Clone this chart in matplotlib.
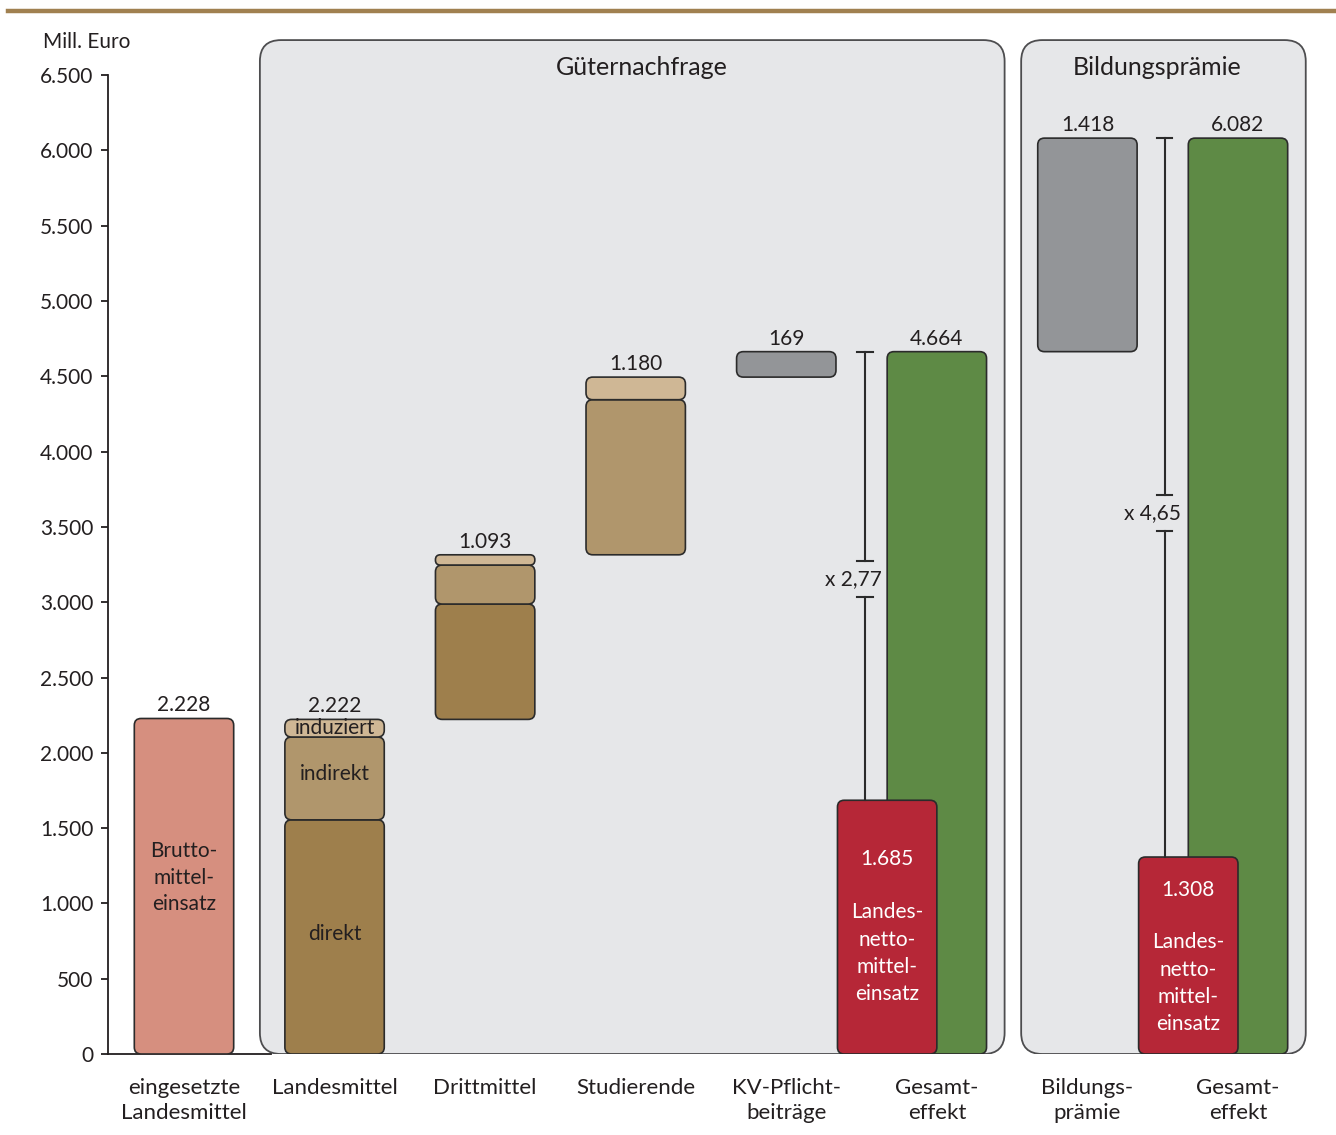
import matplotlib
matplotlib.use("Agg")
import matplotlib.pyplot as plt
from matplotlib.patches import FancyBboxPatch
from matplotlib.lines import Line2D
import numpy as np

plt.rcParams['font.family'] = ['Lato', 'DejaVu Sans']

# Daten (Mill. Euro)
categories = ["eingesetzte\nLandesmittel", "Landesmittel", "Drittmittel", "Studierende",
              "KV-Pflicht-\nbeiträge", "Gesamt-\neffekt", "Bildungs-\nprämie", "Gesamt-\neffekt"]
brutto = 2228
landes_segs = [1555, 550, 117]      # direkt, indirekt, induziert
landes_total = 2222
dritt_segs = [766, 259, 68]
dritt_total = 1093
stud_segs = [1030, 150]
stud_total = 1180
kv = 169
gesamt_gn = 4664
netto_gn = 1685
praemie = 1418
gesamt_bp = 6082
netto_bp = 1308
faktor_labels = ["x 2,77", "x 4,65"]
faktor_text_y = [3154, 3592]
faktor_gap = [(3035, 3274), (3473, 3712)]

TXT = "#231f20"
EDGE = "#2b2b2b"
c_brutto = "#d68f7f"
c_seg = ["#9e7f4c", "#b0966c", "#cfb795"]
c_grey = "#939598"
c_green = "#5e8a45"
c_red = "#b62737"
c_panel = "#e6e7e9"

W = 0.66
fig = plt.figure(figsize=(13.36, 11.35), dpi=100)
L, B, Wpx, Hpx = 108, 1135 - 1054, 1222, 1024
ax = fig.add_axes([L / 1336, B / 1135, Wpx / 1336, Hpx / 1135])
pxu = 150.57
ax.set_xlim(-76 / pxu, (1330 - 184) / pxu)
ax.set_ylim(0, 6800)
asp = (6800 / Hpx) / ((ax.get_xlim()[1] - ax.get_xlim()[0]) / Wpx)


def rounded(bars, r=0.045, z=3):
    for b in bars:
        x, y, w, h = b.get_x(), b.get_y(), b.get_width(), b.get_height()
        rs = min(r, h / asp / 2.1)
        p = FancyBboxPatch((x, y), w, h, boxstyle=f"round,pad=0,rounding_size={rs}",
                           mutation_aspect=asp, fc=b.get_facecolor(), ec=EDGE, lw=1.2, zorder=z)
        b.remove()
        ax.add_patch(p)


# Panels
for x0, x1, tx, title in [(0.504, 5.45, 3.04, "Güternachfrage"), (5.56, 7.45, 6.46, "Bildungsprämie")]:
    p = FancyBboxPatch((x0, 0), x1 - x0, 6733, boxstyle="round,pad=0,rounding_size=0.14",
                       mutation_aspect=asp, fc=c_panel, ec="#4d4d4f", lw=1.3, zorder=1)
    ax.add_patch(p)
    ax.text(tx, 6548, title, ha="center", va="center", fontsize=18, color=TXT, zorder=6)

# Bars
rounded(ax.bar(0, brutto, W, color=c_brutto))
bot = np.concatenate([[0], np.cumsum(landes_segs)[:-1]])
rounded(ax.bar([1] * 3, landes_segs, W, bottom=bot, color=c_seg))
bot = landes_total + np.concatenate([[0], np.cumsum(dritt_segs)[:-1]])
rounded(ax.bar([2] * 3, dritt_segs, W, bottom=bot, color=c_seg))
base_s = landes_total + dritt_total
bot = base_s + np.concatenate([[0], np.cumsum(stud_segs)[:-1]])
rounded(ax.bar([3] * 2, stud_segs, W, bottom=bot, color=c_seg[1:]))
base_kv = base_s + stud_total
rounded(ax.bar(4, kv, W, bottom=base_kv, color=c_grey))
rounded(ax.bar(5, gesamt_gn, W, color=c_green))
rounded(ax.bar(5 - W / 2, netto_gn, W, color=c_red), z=4)
rounded(ax.bar(6, praemie, W, bottom=gesamt_gn, color=c_grey))
rounded(ax.bar(7, gesamt_bp, W, color=c_green))
rounded(ax.bar(7 - W / 2, netto_bp, W, color=c_red), z=4)


def fmt(v):
    return f"{v:,}".replace(",", ".")


# Value labels above bars
tops = [(0, brutto, brutto), (1, landes_total, landes_total), (2, landes_total + dritt_total, dritt_total),
        (3, base_kv, stud_total), (4, base_kv + kv, kv), (5, gesamt_gn, gesamt_gn),
        (6, gesamt_gn + praemie, praemie), (7, gesamt_bp, gesamt_bp)]
for x, top, v in tops:
    ax.text(x, top + 20, fmt(v), ha="center", va="bottom", fontsize=15, color=TXT, zorder=6)

# Inner labels
ax.text(0, 1170, "Brutto-\nmittel-\neinsatz", ha="center", va="center", fontsize=15,
        color=TXT, linespacing=1.4, zorder=6)
ax.text(1, 795, "direkt", ha="center", va="center", fontsize=15, color=TXT, zorder=6)
ax.text(1, 1860, "indirekt", ha="center", va="center", fontsize=15, color=TXT, zorder=6)
ax.text(1, 2168, "induziert", ha="center", va="center", fontsize=15, color=TXT, zorder=6)
for xr, nv, ytop, ylab in [(5 - W / 2, netto_gn, 1293, 670), (7 - W / 2, netto_bp, 1088, 470)]:
    ax.text(xr, ytop, fmt(nv), ha="center", va="center", fontsize=15, color="white", zorder=6)
    ax.text(xr, ylab, "Landes-\nnetto-\nmittel-\neinsatz", ha="center", va="center",
            fontsize=15, color="white", linespacing=1.45, zorder=6)

# Multiplikator-Klammern
for xb, lo, hi, lab, ty, gap in [(4.523, netto_gn, gesamt_gn, faktor_labels[0], faktor_text_y[0], faktor_gap[0]),
                                 (6.515, netto_bp, gesamt_bp, faktor_labels[1], faktor_text_y[1], faktor_gap[1])]:
    ax.plot([xb, xb], [lo, gap[0]], color=EDGE, lw=1.5, zorder=5)
    ax.plot([xb, xb], [gap[1], hi], color=EDGE, lw=1.5, zorder=5)
    for yc in [gap[0], gap[1], hi]:
        ax.plot([xb - 0.05, xb + 0.05], [yc, yc], color=EDGE, lw=1.5, zorder=5)
    ax.text(xb - 0.08, ty, lab, ha="center", va="center", fontsize=15, color=TXT, zorder=6)

# Achsen
for s in ["top", "right"]:
    ax.spines[s].set_visible(False)
ax.spines["left"].set_bounds(0, 6500)
ax.spines["bottom"].set_bounds(ax.get_xlim()[0], 0.58)
for s in ["left", "bottom"]:
    ax.spines[s].set_color(TXT)
    ax.spines[s].set_linewidth(1.3)
yt = np.arange(0, 6501, 500)
ax.set_yticks(yt, [fmt(v) for v in yt])
ax.tick_params(axis="y", length=5, width=1.3, color=TXT, labelsize=15, labelcolor=TXT, pad=5.5)
ax.set_xticks(range(8), categories)
ax.tick_params(axis="x", length=0, pad=17, labelsize=16, labelcolor=TXT)
for t in ax.get_xticklabels():
    t.set_linespacing(1.32)
ax.patch.set_alpha(0)

fig.text(43 / 1336, 1 - 42 / 1135, "Mill. Euro", ha="left", va="center", fontsize=15, color=TXT)
fig.add_artist(Line2D([8 / 1336, 1], [1 - 11 / 1135] * 2, color="#a08050", lw=3.2))

fig.savefig("out.png", dpi=100)
